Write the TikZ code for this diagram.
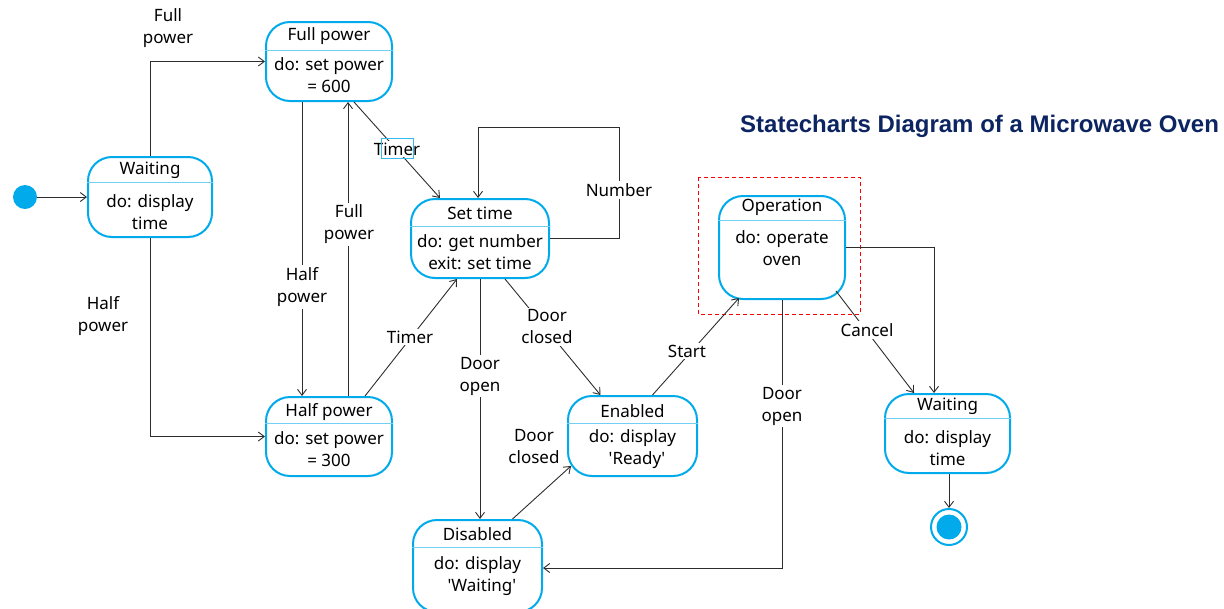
\documentclass[tikz,border=0pt]{standalone}
\usepackage{fontspec}
\setmainfont{Noto Sans}
\newfontfamily\titlefont{Liberation Sans}
\usetikzlibrary{arrows.meta}

\definecolor{stcyan}{RGB}{0,170,235}
\definecolor{titleblue}{RGB}{12,36,97}
\definecolor{wire}{RGB}{45,45,45}

\begin{document}
\begin{tikzpicture}[x=1pt,y=-1pt,
    state/.style={draw=stcyan,line width=2pt,rounded corners=24pt,fill=white,inner sep=0pt},
    divider/.style={draw=stcyan!55,line width=1pt},
    txt/.style={font=\fontsize{17}{22}\selectfont,align=center,inner sep=1pt},
    lbl/.style={font=\fontsize{17}{22}\selectfont,align=center,fill=white,inner sep=2pt},
    trans/.style={draw=wire,line width=0.9pt,-{Straight Barb[length=6pt,width=9pt]}}]
  \useasboundingbox (0,0) rectangle (1224,608);

  % title
  \node[anchor=west,font=\titlefont\bfseries\fontsize{24}{28}\selectfont,text=titleblue,inner sep=0pt] (title) at (740,126) {Statecharts Diagram of a Microwave Oven};

  % red dashed frame round Operation
  \draw[red,line width=1pt,dash pattern=on 4pt off 3pt] (698,177) rectangle (860,314);

  % initial and final states
  \node[circle,fill=stcyan,minimum size=24pt,inner sep=0pt] (init) at (25,197) {};
  \node[circle,draw=stcyan,line width=2pt,fill=white,minimum size=36pt,inner sep=0pt] (final) at (949,527) {};
  \fill[stcyan] (final.center) circle (12.5);

  % Waiting (left)
  \node[state,minimum width=124pt,minimum height=80pt] (waitA) at (150,197) {};
  \draw[divider] ([yshift=-26pt]waitA.north west) -- ([yshift=-26pt]waitA.north east);
  \node[txt] (waitA-t) at (150,170) {Waiting};
  \node[txt] (waitA-b) at (150,212) {do: display\\time};

  % Full power
  \node[state,minimum width=126pt,minimum height=79pt] (fullp) at (329,61.5) {};
  \draw[divider] ([yshift=-29pt]fullp.north west) -- ([yshift=-29pt]fullp.north east);
  \node[txt] (fullp-t) at (329,36) {Full power};
  \node[txt] (fullp-b) at (329,75) {do: set power\\= 600};

  % Half power
  \node[state,minimum width=126pt,minimum height=79pt] (halfp) at (329,436.5) {};
  \draw[divider] ([yshift=-27pt]halfp.north west) -- ([yshift=-27pt]halfp.north east);
  \node[txt] (halfp-t) at (329,412) {Half power};
  \node[txt] (halfp-b) at (329,449) {do: set power\\= 300};

  % Set time
  \node[state,minimum width=138pt,minimum height=79pt] (settime) at (480,238.5) {};
  \draw[divider] ([yshift=-28pt]settime.north west) -- ([yshift=-28pt]settime.north east);
  \node[txt] (settime-t) at (480,213) {Set time};
  \node[txt] (settime-b) at (480,252) {do: get number\\exit: set time};

  % Enabled
  \node[state,minimum width=129pt,minimum height=80pt] (enabled) at (632.5,436) {};
  \draw[divider] ([yshift=-28pt]enabled.north west) -- ([yshift=-28pt]enabled.north east);
  \node[txt] (enabled-t) at (632.5,411) {Enabled};
  \node[txt] (enabled-b) at (632.5,449) {do: display\\\ \ \textquotesingle Ready\textquotesingle};

  % Disabled
  \node[state,minimum width=129pt,minimum height=92pt] (disabled) at (477.5,566) {};
  \draw[divider] ([yshift=-28pt]disabled.north west) -- ([yshift=-28pt]disabled.north east);
  \node[txt] (disabled-t) at (477.5,534) {Disabled};
  \node[txt] (disabled-b) at (477.5,576) {do: display\\\ \ \textquotesingle Waiting\textquotesingle};

  % Operation
  \node[state,minimum width=126pt,minimum height=103pt] (oper) at (782,247.5) {};
  \draw[divider] ([yshift=-25pt]oper.north west) -- ([yshift=-25pt]oper.north east);
  \node[txt] (oper-t) at (782,207) {Operation};
  \node[txt] (oper-b) at (782,248) {do: operate\\oven};

  % Waiting (right)
  \node[state,minimum width=125pt,minimum height=79pt] (waitB) at (947.5,433.5) {};
  \draw[divider] ([yshift=-25pt]waitB.north west) -- ([yshift=-25pt]waitB.north east);
  \node[txt] (waitB-t) at (947.5,406) {Waiting};
  \node[txt] (waitB-b) at (947.5,448) {do: display\\time};

  % transitions
  \draw[trans] (init) -- (waitA.west);
  \draw[trans] (waitA.north) |- (fullp.west);
  \node[txt] (l-full1) at (168,28) {Full\\power};
  \draw[trans] (waitA.south) |- (halfp.west);
  \node[txt] (l-half1) at (103,316) {Half\\power};

  \draw[trans] ([xshift=-27pt]fullp.south) -- ([xshift=-27pt]halfp.north);
  \node[lbl] (l-half2) at (302,287) {Half\\power};
  \draw[trans] ([xshift=19pt]halfp.north) -- ([xshift=19pt]fullp.south);
  \node[lbl] (l-full2) at (349,224) {Full\\power};

  \draw[trans] ([xshift=25pt]fullp.south) -- ([xshift=-40pt]settime.north);
  \node[lbl] (l-timer1) at (397,149) {Timer};
  \draw[stcyan!80,line width=0.8pt] (381,138) rectangle (413,158);
  \draw[trans] ([xshift=36pt]halfp.north) -- ([xshift=-23pt]settime.south);
  \node[lbl] (l-timer2) at (410,337) {Timer};

  \draw[trans] (settime.east) -- ++(69,0) -- ++(0,-111.5) -| ([xshift=-2pt]settime.north);
  \node[lbl] (l-number) at (619,190) {Number};

  \draw[trans] (settime.south) -- (settime.south |- disabled.north);
  \node[lbl] (l-open1) at (480,376) {Door\\open};
  \draw[trans] ([xshift=25pt]settime.south) -- ([xshift=-32pt]enabled.north);
  \node[lbl] (l-closed1) at (547,327) {Door\\closed};
  \draw[trans] ([xshift=35pt]disabled.north) -- ([xshift=4pt,yshift=11pt]enabled.south west);
  \node[txt] (l-closed2) at (534,447) {Door\\closed};

  \draw[trans] ([xshift=20pt]enabled.north) -- ([xshift=21pt,yshift=2pt]oper.south west);
  \node[lbl] (l-start) at (687,351) {Start};
  \draw[trans] (oper.south) |- ([yshift=-2pt]disabled.east);
  \node[lbl] (l-open2) at (782,406) {Door\\open};
  \draw[trans] ([xshift=-10pt,yshift=9pt]oper.south east) -- ([xshift=30pt]waitB.north west);
  \node[lbl] (l-cancel) at (867,330) {Cancel};
  \draw[trans] (oper.east) -| ([xshift=-13.5pt]waitB.north);
  \draw[trans] (waitB.south -| final.north) -- (final.north);
\end{tikzpicture}
\end{document}
